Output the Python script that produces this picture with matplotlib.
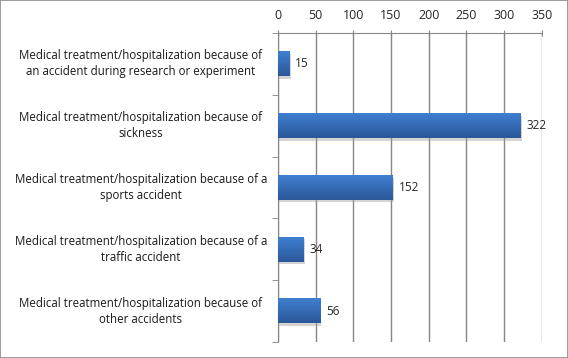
import matplotlib
matplotlib.use("Agg")
import matplotlib.pyplot as plt
import numpy as np
from matplotlib.colors import LinearSegmentedColormap
from matplotlib.patches import Rectangle

categories = [
    "Medical treatment/hospitalization because of\nan accident during research or experiment",
    "Medical treatment/hospitalization because of\nsickness",
    "Medical treatment/hospitalization because of a\nsports accident",
    "Medical treatment/hospitalization because of a\ntraffic accident",
    "Medical treatment/hospitalization because of\nother accidents",
]
values = [15, 322, 152, 34, 56]
xticks = [0, 50, 100, 150, 200, 250, 300, 350]

plt.rcParams['font.family'] = ['Open Sans', 'DejaVu Sans']

fig = plt.figure(figsize=(5.68, 3.58), dpi=100)
fig.patches.append(Rectangle((0, 0), 1, 1, transform=fig.transFigure, fill=False,
                             edgecolor='#8c8c8c', linewidth=1.2))
ax = fig.add_axes([278/568, 16/358, (541.7-278)/568, (342-33)/358])

n = len(categories)
ypos = np.arange(n)
h = 0.4
cmap = LinearSegmentedColormap.from_list('g', ['#3f7fd0', '#2b5899'])
grad = np.linspace(0, 1, 50).reshape(-1, 1)
for y, v in zip(ypos, values):
    # shadow
    ax.add_patch(Rectangle((0.8, y - h/2 + 0.04), v + 0.8, h, facecolor='#a0a0a0', alpha=0.45,
                           edgecolor='none', zorder=2))
    ax.imshow(grad, extent=(0, v, y + h/2, y - h/2), cmap=cmap, aspect='auto',
              zorder=3, origin='upper')
    ax.text(v + 8, y, str(v), va='center', ha='left', fontsize=8.5, color='#262626', zorder=4)

ax.set_xlim(0, 350)
ax.set_ylim(n - 0.5, -0.5)
ax.set_xticks(xticks)
ax.xaxis.tick_top()
ax.tick_params(axis='x', which='major', length=4, direction='inout', colors='#868686',
               labelcolor='#262626', labelsize=9, pad=6)
ax.grid(axis='x', color='#868686', linewidth=1, zorder=0)
ax.set_axisbelow(True)
ax.set_yticks([])
ax.set_yticks(np.arange(-0.5, n, 1), minor=True)
ax.tick_params(axis='y', which='minor', length=4, direction='out', colors='#868686')
ax.set_yticklabels([], minor=True)
for s in ['right', 'bottom']:
    ax.spines[s].set_visible(False)
ax.spines['top'].set_color('#868686')
ax.spines['left'].set_color('#868686')

for y, c in zip(ypos, categories):
    ax.text(-0.52, y, c, transform=ax.get_yaxis_transform(), ha='center', va='center',
            fontsize=8.3, color='#1a1a1a', linespacing=1.3)

fig.savefig('out.png', dpi=100)
